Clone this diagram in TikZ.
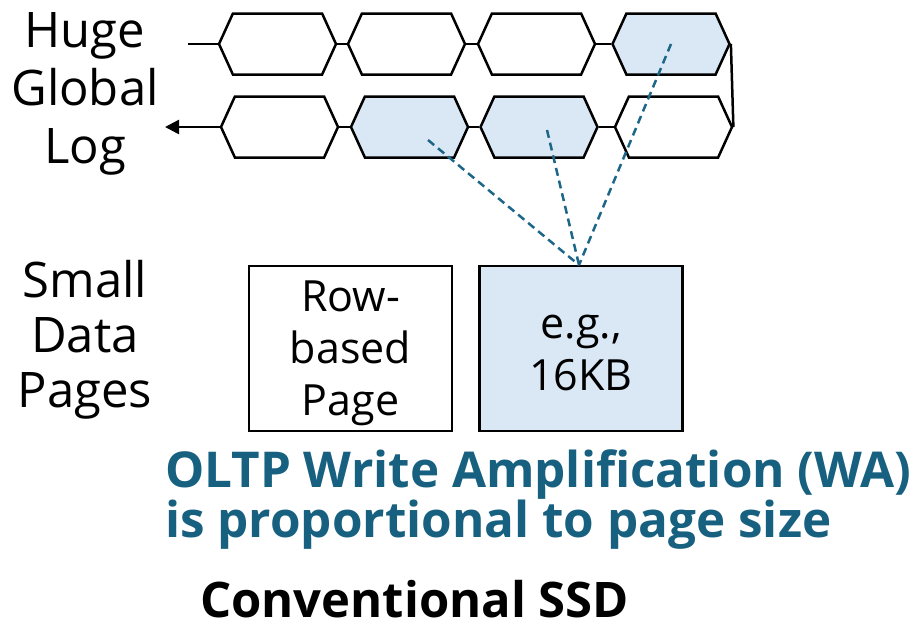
\documentclass[tikz,border=0pt]{standalone}
\usepackage{fontspec}
\setmainfont{Open Sans}
\usetikzlibrary{shapes.symbols,arrows.meta}
\definecolor{pagefill}{HTML}{DAE8F5}
\definecolor{waline}{HTML}{1D6688}
\definecolor{watext}{HTML}{17607F}
\tikzset{
  logseg/.style={draw=black, line width=2.5pt, signal, signal to=east and west,
    signal pointer angle=131, minimum width=117pt, minimum height=61pt, inner sep=0pt},
  hot/.style={fill=pagefill},
  link/.style={draw=black, line width=2.5pt},
  pagebox/.style={draw=black, line width=2.5pt, minimum width=203pt, minimum height=165pt,
    inner sep=0pt},
  boxtext/.style={align=center, inner sep=0pt, font=\fontsize{43}{52}\selectfont},
  trace/.style={draw=waline, line width=2.5pt, dash pattern=on 8pt off 5pt},
}
\begin{document}
\begin{tikzpicture}[x=1pt,y=-1pt]
\useasboundingbox (0,0) rectangle (917,627);

% upper run of the global log
\node[logseg] (t1) at (277.5,44) {};
\node[logseg] (t2) at (406.5,44) {};
\node[logseg] (t3) at (536.5,44) {};
\node[logseg,hot] (t4) at (671,44) {};
% lower run of the global log
\node[logseg] (b1) at (279.5,127) {};
\node[logseg,hot] (b2) at (409.5,127) {};
\node[logseg,hot] (b3) at (539,127) {};
\node[logseg] (b4) at (673.5,127) {};

\coordinate (login) at (188,44);
\coordinate (logout) at (165,127);
\draw[link] (login) -- (t1.west);
\draw[link] (t1.east) -- (t2.west);
\draw[link] (t2.east) -- (t3.west);
\draw[link] (t3.east) -- (t4.west);
\draw[link] (t4.east) -- (b4.east);
\draw[link] (b4.west) -- (b3.east);
\draw[link] (b3.west) -- (b2.east);
\draw[link] (b2.west) -- (b1.east);
\draw[link,-{Triangle[length=14pt,width=14pt]}] (b1.west) -- (logout);

% data pages
\node[pagebox] (rowpage) at (350.5,348.5) {};
\node[pagebox,hot] (bigpage) at (581,348.5) {};
\node[boxtext, anchor=base] (rowtext) at (350.5,415) {Row-\\based\\Page};
\node[boxtext, anchor=base] (bigtext) at (581,390) {e.g.,\\16KB};

% log records flushed into the page
\coordinate (r4) at (671,44);
\coordinate (r3) at (547,130);
\coordinate (r2) at (428,140);
\coordinate (hit) at (579,265);
\draw[trace] (r4) -- (hit);
\draw[trace] (r3) -- (hit);
\draw[trace] (r2) -- (hit);

% labels
\node[align=center, inner sep=0pt, font=\fontsize{49}{58}\selectfont, anchor=base]
  (loglabel) at (85,163) {Huge\\Global\\Log};
\node[align=center, inner sep=0pt, font=\fontsize{49}{55}\selectfont, anchor=base]
  (pagelabel) at (85,407) {Small\\Data\\Pages};
\node[anchor=base west, inner sep=0pt, align=left, text=watext,
  font=\fontsize{49.4}{50}\selectfont\bfseries] (wa) at (165,537)
  {OLTP Write Amplification (WA)\\is proportional to page size};
\node[anchor=base west, inner sep=0pt, font=\fontsize{49}{50}\selectfont\bfseries]
  (ssd) at (200,617) {Conventional SSD};
\end{tikzpicture}
\end{document}
